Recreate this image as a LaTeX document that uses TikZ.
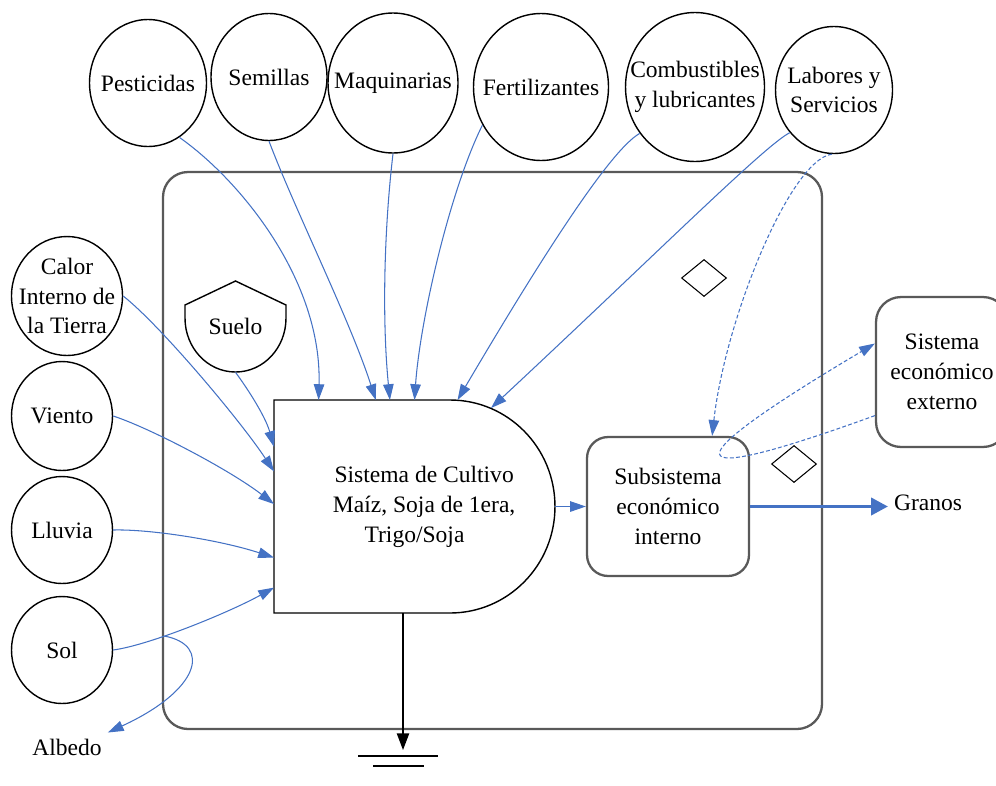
\documentclass[tikz,border=0pt]{standalone}
\usepackage{fontspec}
\setmainfont{Liberation Serif}
\usetikzlibrary{arrows.meta,shapes.geometric,calc}
\definecolor{azul}{HTML}{4472C4}
\definecolor{borde}{HTML}{595959}

\begin{document}
\begin{tikzpicture}
  [x=0.02cm,y=-0.02cm,
   every node/.style={font=\fontsize{13.4pt}{17pt}\selectfont,align=center},
   fuente/.style={ellipse,draw,line width=0.8pt,inner sep=-12pt},
   bloque/.style={rectangle,draw=borde,line width=1.3pt,rounded corners=0.42cm},
   rombo/.style={diamond,draw,line width=0.6pt,inner sep=0pt,minimum width=0.9cm,minimum height=0.74cm},
   flujo/.style={draw=azul,line width=0.6pt,-{Triangle[length=9pt,width=6pt]}},
   punteado/.style={flujo,dash pattern=on 2.2pt off 1.3pt}]
  \useasboundingbox (0,0) rectangle (996,785);

  \draw[borde,line width=1.3pt,rounded corners=0.5cm] (163,172) rectangle (822,729);

  \node[fuente,minimum width=2.34cm,minimum height=2.54cm] (pest) at (148,83) {Pesticidas};
  \node[fuente,minimum width=2.32cm,minimum height=2.54cm] (sem) at (269,77) {Semillas};
  \node[fuente,minimum width=2.6cm,minimum height=2.8cm] (maq) at (393,83) {Maquinarias};
  \node[fuente,minimum width=2.7cm,minimum height=2.94cm] (fert) at (541,87) {Fertilizantes};
  \node[fuente,minimum width=2.78cm,minimum height=2.98cm] (comb) at (695,87) {Combustibles\\y lubricantes};
  \node[fuente,minimum width=2.34cm,minimum height=2.54cm] (lab) at (834,90) {Labores y\\Servicios};
  \node[fuente,minimum width=2.22cm,minimum height=2.38cm] (calor) at (67,296) {Calor\\Interno de\\la Tierra};
  \node[fuente,minimum width=2.02cm,minimum height=2.18cm] (viento) at (62,416) {Viento};
  \node[fuente,minimum width=2.02cm,minimum height=2.14cm] (lluvia) at (62,530) {Lluvia};
  \node[fuente,minimum width=2.02cm,minimum height=2.14cm] (sol) at (62,650) {Sol};
  \node (albedo) at (67,747) {Albedo};

  % suelo
  \draw[line width=0.8pt] (185,318) -- (185,305) -- (235.5,281) -- (286,305) -- (286,318)
    .. controls (286,348) and (263.4,372) .. (235.5,372)
    .. controls (207.6,372) and (185,348) .. (185,318) -- cycle;
  \node[minimum width=2.02cm,minimum height=1.82cm] (suelo) at (235.5,326.5) {Suelo};

  % sistema de cultivo
  \node[outer sep=0pt,minimum width=5.62cm,minimum height=4.26cm] (cultivo) at (414.5,506.5)
    {\hspace*{11pt}Sistema de Cultivo\\\hspace*{11pt}Maíz, Soja de 1era,\\Trigo/Soja};
  \draw[line width=0.8pt] (cultivo.north west) -- (450,400)
    .. controls (508,400) and (555,447.7) .. (cultivo.east)
    .. controls (555,565.3) and (508,613) .. (450,613) -- (cultivo.south west) -- cycle;

  \node[bloque,minimum width=3.24cm,minimum height=2.78cm] (sub) at (668,506.5) {Subsistema\\económico\\interno};
  \node[bloque,rounded corners=0.5cm,minimum width=2.64cm,minimum height=3cm] (ext) at (942,372) {Sistema\\económico\\externo};
  \node (granos) at (928,503) {Granos};

  \node[rombo] (d1) at (704,278) {};
  \node[rombo] (d2) at (794,464) {};

  \foreach \from/\to/\ax/\ay/\bx/\by in {pest.300/cultivo.132/240/180/322/280,
      sem.south/cultivo.110/295/210/350/320, maq.south/cultivo.103/384/230/382/320,
      fert.213/cultivo.north/450/190/420/320, comb.220/cultivo.68/610/150/540/260,
      calor.east/cultivo.166/160/325/240/420, suelo.south/cultivo.157/245/385/265/415,
      viento.east/cultivo.179/150/428/230/470, lluvia.east/cultivo.200/150/529/220/540}
    \draw[flujo] (\from) .. controls (\ax,\ay) and (\bx,\by) .. (\to);

  \draw[flujo] (lab.224) .. controls (765,145) and (650,260) .. ($(cultivo.north west)+(217,8)$);
  \draw[flujo] (sol.east) .. controls (150,645) and (230,612) .. (cultivo.210) coordinate[pos=0.35] (rebote);
  \draw[flujo] (rebote) .. controls (212,645) and (200,690) .. (albedo.north east);
  \draw[flujo] (cultivo.east) -- (sub.west);
  \draw[punteado] (lab.268) .. controls (790,160) and (725,320) .. (sub.58);
  \draw[punteado] (ext.213) .. controls (670,490) and (670,465) .. (ext.157);
  \draw[draw=azul,line width=1.2pt,-{Triangle[length=9.5pt,width=10pt]}] (sub.east) -- (sub.east -| granos.west);

  % sumidero
  \coordinate (tierra) at (403,750);
  \draw[line width=0.8pt,-{Triangle[length=9.5pt,width=7pt]}] (cultivo.south -| tierra) -- (tierra);
  \draw[line width=0.8pt] (358,756) -- (438,756) (373,766) -- (424,766);

\end{tikzpicture}
\end{document}
